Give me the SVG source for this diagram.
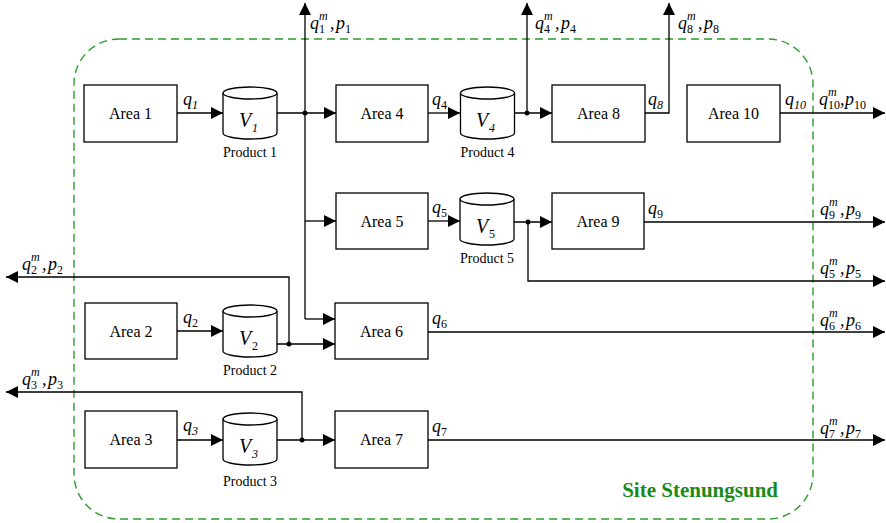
<svg xmlns="http://www.w3.org/2000/svg" width="886" height="523" viewBox="0 0 886 523">
<defs>
<marker id="ah" viewBox="0 0 12 12" refX="12" refY="6" markerWidth="12" markerHeight="12" markerUnits="userSpaceOnUse" orient="auto">
<path d="M0,0 L12,6 L0,12 Z" fill="#000"/>
</marker>
<g id="cyl">
<path d="M-27,0 V40 A27,6 0 0 0 27,40 V0" fill="#fff" stroke="#000" stroke-width="1.3"/>
<ellipse cx="0" cy="0" rx="27" ry="6" fill="#fff" stroke="#000" stroke-width="1.3"/>
</g>
</defs>
<style>
.box{fill:#fff;stroke:#000;stroke-width:1.3}
.ln{fill:none;stroke:#000;stroke-width:1.3}
.ar{marker-end:url(#ah)}
.area{font-size:16px;text-anchor:middle}
.prod{font-size:14px;text-anchor:middle}
.v{font-size:20px;font-style:italic}
.q{font-size:18px;font-style:italic}
.s{font-size:12px}
.si{font-size:12px;font-style:italic}
.dot{fill:#000}
.site{fill:none;stroke:#2a9d2a;stroke-width:1.4;stroke-dasharray:8 5}
.sitelbl{font-size:21px;font-weight:bold;fill:#1a8a1a;text-anchor:end}
</style>
<rect class="site" x="74" y="39" width="739" height="480" rx="45" ry="45"/>
<text class="sitelbl" x="778" y="497" font-family="Liberation Serif">Site Stenungsund</text>

<g id="connectors">
<path class="ln ar" d="M177,113 H223"/>
<path class="ln ar" d="M277,113 H336"/>
<path class="ln ar" d="M305,113 V3"/>
<path class="ln" d="M305,113 V319"/>
<path class="ln ar" d="M305,221 H336"/>
<path class="ln ar" d="M305,319 H335"/>
<path class="ln ar" d="M428,113 H460"/>
<path class="ln ar" d="M515,113 H552"/>
<path class="ln ar" d="M527,113 V3"/>
<path class="ln ar" d="M645,113 H669 V3"/>
<path class="ln ar" d="M780,113 H885"/>
<path class="ln ar" d="M428,221 H460"/>
<path class="ln ar" d="M514,222 H552"/>
<path class="ln ar" d="M528,222 V281 H885"/>
<path class="ln ar" d="M644,222 H885"/>
<path class="ln ar" d="M177,331 H223"/>
<path class="ln ar" d="M277,344 H335"/>
<path class="ln ar" d="M289,344 V277 H6"/>
<path class="ln ar" d="M428,332 H885"/>
<path class="ln ar" d="M177,440 H223"/>
<path class="ln ar" d="M277,440 H335"/>
<path class="ln ar" d="M302,440 V392 H6"/>
<path class="ln ar" d="M428,440 H885"/>
<circle class="dot" cx="305" cy="113" r="2.5"/>
<circle class="dot" cx="527" cy="113" r="2.5"/>
<circle class="dot" cx="528" cy="222" r="2.5"/>
<circle class="dot" cx="289" cy="344" r="2.5"/>
<circle class="dot" cx="302" cy="440" r="2.5"/>
</g>

<g id="area1"><rect class="box" x="84" y="85" width="93" height="57"/><text class="area" font-family="Liberation Serif" x="130.5" y="119">Area 1</text></g>
<g id="area2"><rect class="box" x="85" y="303" width="92" height="56"/><text class="area" font-family="Liberation Serif" x="131" y="337">Area 2</text></g>
<g id="area3"><rect class="box" x="85" y="411" width="92" height="57"/><text class="area" font-family="Liberation Serif" x="131" y="445">Area 3</text></g>
<g id="area4"><rect class="box" x="336" y="85" width="92" height="57"/><text class="area" font-family="Liberation Serif" x="382" y="119">Area 4</text></g>
<g id="area5"><rect class="box" x="336" y="193" width="92" height="56"/><text class="area" font-family="Liberation Serif" x="382" y="227">Area 5</text></g>
<g id="area6"><rect class="box" x="335" y="303" width="93" height="56"/><text class="area" font-family="Liberation Serif" x="381.5" y="337">Area 6</text></g>
<g id="area7"><rect class="box" x="335" y="411" width="93" height="57"/><text class="area" font-family="Liberation Serif" x="381.5" y="445">Area 7</text></g>
<g id="area8"><rect class="box" x="552" y="85" width="93" height="57"/><text class="area" font-family="Liberation Serif" x="598.5" y="119">Area 8</text></g>
<g id="area9"><rect class="box" x="552" y="193" width="92" height="56"/><text class="area" font-family="Liberation Serif" x="598" y="227">Area 9</text></g>
<g id="area10"><rect class="box" x="687" y="85" width="93" height="57"/><text class="area" font-family="Liberation Serif" x="733.5" y="119">Area 10</text></g>

<g id="v1"><use href="#cyl" x="250" y="93"/><text class="v" font-family="Liberation Serif" x="239" y="127">V</text><text class="si" font-family="Liberation Serif" x="252" y="132">1</text><text class="prod" font-family="Liberation Serif" x="250" y="157">Product 1</text></g>
<g id="v2"><use href="#cyl" x="250" y="311"/><text class="v" font-family="Liberation Serif" x="239" y="345">V</text><text class="s" font-family="Liberation Serif" x="252" y="350">2</text><text class="prod" font-family="Liberation Serif" x="250" y="375">Product 2</text></g>
<g id="v3"><use href="#cyl" x="250" y="419"/><text class="v" font-family="Liberation Serif" x="239" y="453">V</text><text class="si" font-family="Liberation Serif" x="252" y="458">3</text><text class="prod" font-family="Liberation Serif" x="250" y="486">Product 3</text></g>
<g id="v4"><use href="#cyl" x="487.5" y="93"/><text class="v" font-family="Liberation Serif" x="476" y="127">V</text><text class="si" font-family="Liberation Serif" x="489" y="132">4</text><text class="prod" font-family="Liberation Serif" x="487.5" y="157">Product 4</text></g>
<g id="v5"><use href="#cyl" x="487" y="199"/><text class="v" font-family="Liberation Serif" x="476" y="233">V</text><text class="s" font-family="Liberation Serif" x="489" y="238">5</text><text class="prod" font-family="Liberation Serif" x="487" y="263">Product 5</text></g>

<g id="flow-labels" font-family="Liberation Serif">
<text class="q" font-family="Liberation Serif" x="183" y="105">q</text><text class="si" font-family="Liberation Serif" x="192" y="109">1</text>
<text class="q" font-family="Liberation Serif" x="183" y="323">q</text><text class="s" font-family="Liberation Serif" x="192" y="327">2</text>
<text class="q" font-family="Liberation Serif" x="183" y="431">q</text><text class="si" font-family="Liberation Serif" x="192" y="435">3</text>
<text class="q" font-family="Liberation Serif" x="432" y="105">q</text><text class="s" font-family="Liberation Serif" x="441" y="109">4</text>
<text class="q" font-family="Liberation Serif" x="432" y="213">q</text><text class="s" font-family="Liberation Serif" x="441" y="217">5</text>
<text class="q" font-family="Liberation Serif" x="432" y="324">q</text><text class="s" font-family="Liberation Serif" x="441" y="328">6</text>
<text class="q" font-family="Liberation Serif" x="432" y="432">q</text><text class="s" font-family="Liberation Serif" x="441" y="436">7</text>
<text class="q" font-family="Liberation Serif" x="648" y="105">q</text><text class="si" font-family="Liberation Serif" x="657" y="109">8</text>
<text class="q" font-family="Liberation Serif" x="648" y="214">q</text><text class="s" font-family="Liberation Serif" x="657" y="218">9</text>
<text class="q" font-family="Liberation Serif" x="785" y="105">q</text><text class="si" font-family="Liberation Serif" x="794" y="109">10</text>

<text class="q" font-family="Liberation Serif" x="310" y="29">q</text><text class="si" font-family="Liberation Serif" x="319" y="20">m</text><text class="s" font-family="Liberation Serif" x="319" y="33">1</text><text class="q" font-family="Liberation Serif" x="330" y="29">,</text><text class="q" font-family="Liberation Serif" x="336" y="29">p</text><text class="s" font-family="Liberation Serif" x="345" y="33">1</text>
<text class="q" font-family="Liberation Serif" x="535" y="29">q</text><text class="si" font-family="Liberation Serif" x="544" y="20">m</text><text class="s" font-family="Liberation Serif" x="544" y="33">4</text><text class="q" font-family="Liberation Serif" x="555" y="29">,</text><text class="q" font-family="Liberation Serif" x="561" y="29">p</text><text class="s" font-family="Liberation Serif" x="570" y="33">4</text>
<text class="q" font-family="Liberation Serif" x="678" y="29">q</text><text class="si" font-family="Liberation Serif" x="687" y="20">m</text><text class="s" font-family="Liberation Serif" x="687" y="33">8</text><text class="q" font-family="Liberation Serif" x="698" y="29">,</text><text class="q" font-family="Liberation Serif" x="704" y="29">p</text><text class="s" font-family="Liberation Serif" x="713" y="33">8</text>
<text class="q" font-family="Liberation Serif" x="819" y="105">q</text><text class="si" font-family="Liberation Serif" x="828" y="96">m</text><text class="s" font-family="Liberation Serif" x="828" y="109">10</text><text class="q" font-family="Liberation Serif" x="840" y="105">,</text><text class="q" font-family="Liberation Serif" x="845" y="105">p</text><text class="s" font-family="Liberation Serif" x="854" y="109">10</text>
<text class="q" font-family="Liberation Serif" x="820" y="215">q</text><text class="si" font-family="Liberation Serif" x="829" y="206">m</text><text class="s" font-family="Liberation Serif" x="829" y="219">9</text><text class="q" font-family="Liberation Serif" x="840" y="215">,</text><text class="q" font-family="Liberation Serif" x="846" y="215">p</text><text class="s" font-family="Liberation Serif" x="855" y="219">9</text>
<text class="q" font-family="Liberation Serif" x="820" y="274">q</text><text class="si" font-family="Liberation Serif" x="829" y="265">m</text><text class="s" font-family="Liberation Serif" x="829" y="278">5</text><text class="q" font-family="Liberation Serif" x="840" y="274">,</text><text class="q" font-family="Liberation Serif" x="846" y="274">p</text><text class="s" font-family="Liberation Serif" x="855" y="278">5</text>
<text class="q" font-family="Liberation Serif" x="820" y="326">q</text><text class="si" font-family="Liberation Serif" x="829" y="317">m</text><text class="s" font-family="Liberation Serif" x="829" y="330">6</text><text class="q" font-family="Liberation Serif" x="840" y="326">,</text><text class="q" font-family="Liberation Serif" x="846" y="326">p</text><text class="s" font-family="Liberation Serif" x="855" y="330">6</text>
<text class="q" font-family="Liberation Serif" x="820" y="434">q</text><text class="si" font-family="Liberation Serif" x="829" y="425">m</text><text class="s" font-family="Liberation Serif" x="829" y="438">7</text><text class="q" font-family="Liberation Serif" x="840" y="434">,</text><text class="q" font-family="Liberation Serif" x="846" y="434">p</text><text class="s" font-family="Liberation Serif" x="855" y="438">7</text>
<text class="q" font-family="Liberation Serif" x="22" y="270">q</text><text class="si" font-family="Liberation Serif" x="31" y="261">m</text><text class="s" font-family="Liberation Serif" x="31" y="274">2</text><text class="q" font-family="Liberation Serif" x="42" y="270">,</text><text class="q" font-family="Liberation Serif" x="48" y="270">p</text><text class="s" font-family="Liberation Serif" x="57" y="274">2</text>
<text class="q" font-family="Liberation Serif" x="22" y="385">q</text><text class="si" font-family="Liberation Serif" x="31" y="376">m</text><text class="s" font-family="Liberation Serif" x="31" y="389">3</text><text class="q" font-family="Liberation Serif" x="42" y="385">,</text><text class="q" font-family="Liberation Serif" x="48" y="385">p</text><text class="s" font-family="Liberation Serif" x="57" y="389">3</text>
</g>
</svg>
